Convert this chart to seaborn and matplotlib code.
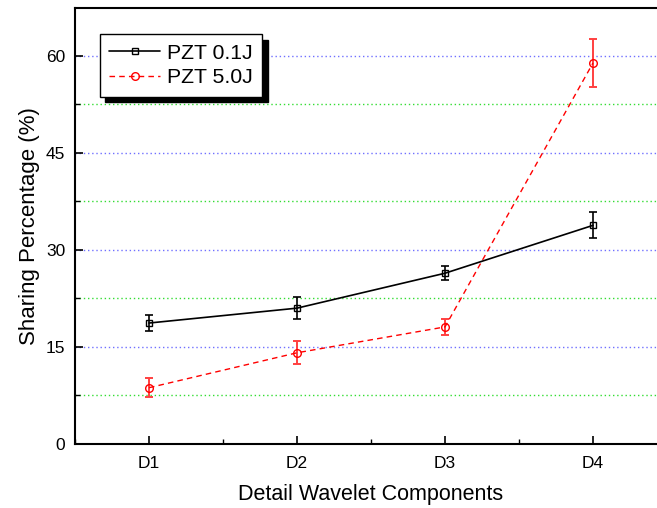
"""Sharing percentage of detail wavelet components for two PZT impact energies."""
import numpy as np
import pandas as pd
import matplotlib
matplotlib.use("Agg")
import matplotlib.pyplot as plt
from matplotlib.ticker import MultipleLocator
import seaborn as sns

components = ["D1", "D2", "D3", "D4"]
pzt_01_mean = [18.7, 21.0, 26.4, 33.8]
pzt_01_err = [1.3, 1.7, 1.1, 2.0]
pzt_50_mean = [8.7, 14.1, 18.1, 58.9]
pzt_50_err = [1.5, 1.8, 1.2, 3.7]
series_labels = ["PZT 0.1J", "PZT 5.0J"]

sns.set_theme(style="white")
plt.rcParams["font.family"] = ["Liberation Sans", "DejaVu Sans"]
plt.rcParams.update({"text.color": "black", "axes.labelcolor": "black",
                     "xtick.color": "black", "ytick.color": "black"})

pos = np.arange(len(components))
df = pd.DataFrame({
    "pos": np.concatenate([pos, pos]),
    "value": pzt_01_mean + pzt_50_mean,
    "series": [series_labels[0]] * 4 + [series_labels[1]] * 4,
})

fig = plt.figure(figsize=(6.57, 5.08), dpi=100)
ax = fig.add_axes([75 / 657, 64 / 508, 592 / 657, 436 / 508])

# grid first so it sits below the data
ax.set_axisbelow(True)
ax.yaxis.grid(True, which="major", color="#7070ff", linestyle=(0, (1, 2)), linewidth=1.0)
ax.yaxis.grid(True, which="minor", color="#33dd33", linestyle=(0, (1, 2)), linewidth=1.0)

sns.lineplot(data=df[df.series == series_labels[0]], x="pos", y="value", ax=ax,
             color="black", linewidth=1.2, marker="s", markersize=4.5,
             markerfacecolor="none", markeredgecolor="black", markeredgewidth=1,
             label=series_labels[0], zorder=3)
sns.lineplot(data=df[df.series == series_labels[1]], x="pos", y="value", ax=ax,
             color="red", linewidth=1.0, linestyle=(0, (4, 3)), marker="o",
             markersize=5.5, markerfacecolor="none", markeredgecolor="red",
             markeredgewidth=1, label=series_labels[1], zorder=3)

ax.errorbar(pos, pzt_01_mean, yerr=pzt_01_err, fmt="none", ecolor="black",
            elinewidth=1.2, capsize=3.2, capthick=1.2, zorder=2)
ax.errorbar(pos, pzt_50_mean, yerr=pzt_50_err, fmt="none", ecolor="#ff4040",
            elinewidth=1.4, capsize=3.2, capthick=1.4, zorder=2)

ax.set_xlim(-0.5, 3.5)
ax.set_ylim(0, 67.4)
ax.set_xticks(pos)
ax.set_xticklabels(components)
ax.xaxis.set_minor_locator(MultipleLocator(0.5))
ax.yaxis.set_major_locator(MultipleLocator(15))
ax.yaxis.set_minor_locator(MultipleLocator(7.5))

ax.tick_params(axis="y", which="major", direction="in", length=6, width=1.2,
               labelsize=12.5, left=True, pad=7)
ax.tick_params(axis="y", which="minor", direction="in", length=3.5, width=1.0, left=True)
ax.tick_params(axis="x", which="major", direction="in", length=6, width=1.2,
               labelsize=12.5, bottom=True, pad=9)
ax.tick_params(axis="x", which="minor", direction="in", length=3.5, width=1.0, bottom=True)

for spine in ax.spines.values():
    spine.set_visible(True)
    spine.set_color("black")
    spine.set_linewidth(1.5)

ax.set_xlabel("Detail Wavelet Components", fontsize=15.5, labelpad=9)
ax.set_ylabel("Sharing Percentage (%)", fontsize=16, labelpad=4)

leg = ax.legend(loc="upper left", bbox_to_anchor=(0.042, 0.940), borderaxespad=0,
                fontsize=15.3, frameon=True, fancybox=False, edgecolor="black",
                framealpha=1, handlelength=2.4, handletextpad=0.3,
                borderpad=0.45, labelspacing=0.25,
                shadow={"color": "black", "alpha": 1, "ox": 4, "oy": -4})
leg.get_frame().set_linewidth(1.0)

fig.savefig("out.png", dpi=100)
